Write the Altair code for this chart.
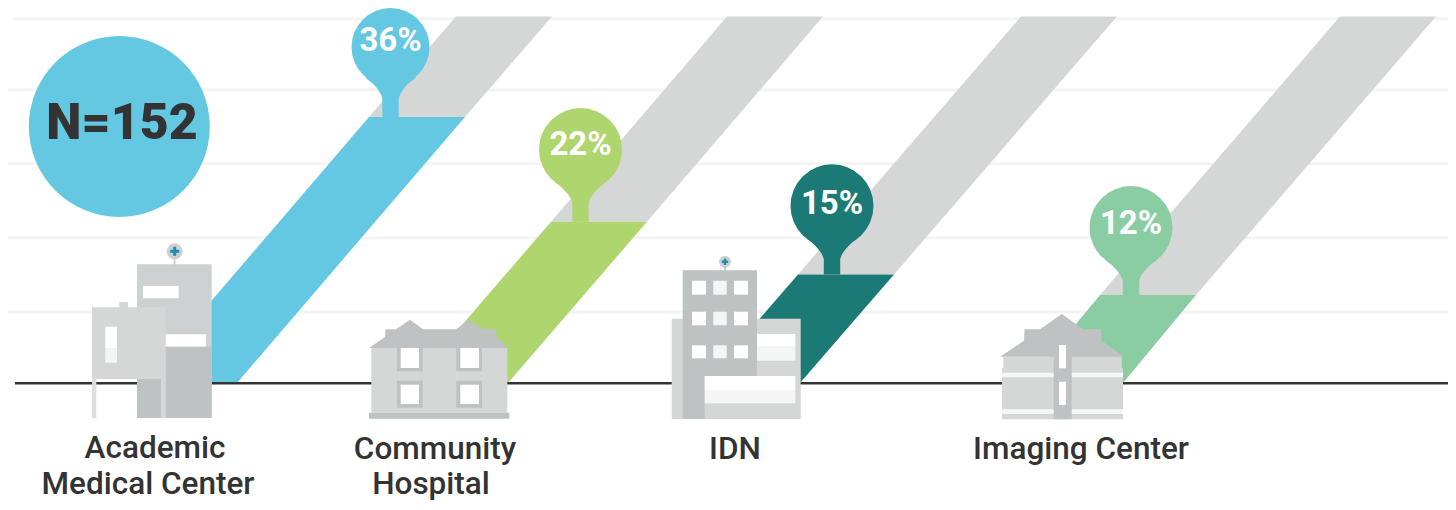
import altair as alt
import pandas as pd

# ---- values (percent of respondents) ----
categories = ["Academic Medical Center", "Community Hospital", "IDN", "Imaging Center"]
pct_labels = ["36%", "22%", "15%", "12%"]
bar_values = [36.3, 22.0, 14.8, 12.0]
full_value = 50.0
grid_values = [9.7, 19.8, 29.9, 40.0, 49.7]
grid_start = [8, 8, 8, 8, 13]
band_colors = ["#65c8e2", "#afd56f", "#1c7a76", "#8bcda3"]

# horizontal position of each slanted band's right edge
band_right_base = [237, 508, 800, 1123]
band_right_bar = [465, 647, 894, 1196]
band_right_full = [552, 823, 1117, 1436]
BAND_W = 96

pin_x = [390.5, 580.5, 832, 1131]
pin_y = [47, 149.5, 205.8, 227.5]
pin_d = [78, 83, 83, 83]
pin_text_y = [41, 145, 204, 224]
neck_dy = [[30.5, 34, 37, 44, 52.5], [32.5, 36, 39.5, 46, 54.5], [32.5, 36, 39.5, 46, 54.5], [32.5, 36, 39.5, 46, 54.5]]
neck_half = [25.7, 21, 17.3, 11.7, 8.2]

GRAY = "#d5d7d6"
MID = "#ced1d1"
DARK = "#bec2c2"
PALE = "#f4f6f5"
WHITE = "#ffffff"
TEAL = "#1e8fae"

K = 7.33  # pixels per percent point
BASE = 383


def v(py):
    return (BASE - py) / K


roof_a_x = [369, 385, 385.5, 396, 410, 423, 456, 469, 483, 496, 496.5, 509.3]
roof_a_y = [348, 337, 329.3, 329.3, 319.7, 329.3, 329.3, 319.7, 329.3, 329.3, 337.7, 348]
roof_b_x = [1000, 1024, 1024.5, 1040, 1061.7, 1083.3, 1101, 1101.5, 1124]
roof_b_y = [356.7, 340.7, 329.3, 329.3, 314, 329.3, 329.3, 340.7, 356.7]

balls_x = [174.7, 725]
balls_y = [251.3, 261.7]
balls_d = [16, 12]

parts = [
    # Academic Medical Center
    (173.8, 175.6, 255, 265, MID), (137, 211.7, 264.3, 418, MID),
    (143, 178.7, 286, 298.3, WHITE), (165, 206, 334.3, 346.7, WHITE),
    (165.7, 211.7, 346.7, 418, DARK), (119.3, 128, 302, 308, GRAY),
    (92, 165.7, 307.3, 379, GRAY), (105.3, 117, 326.7, 348.3, WHITE),
    (105.3, 117, 348.3, 362.7, PALE), (92, 96.3, 379, 418, "#dcdedd"),
    (137, 161, 379, 418, DARK), (161, 165.7, 379, 418, GRAY),
    (170.2, 179.2, 249.8, 252.8, TEAL), (173.2, 176.2, 246.8, 255.8, TEAL),
    # Community Hospital
    (371.3, 507.3, 348, 412.7, GRAY), (369, 509.3, 412.7, 418.7, DARK),
    (397, 422.7, 348, 371.3, DARK), (400.7, 419, 348, 368, WHITE),
    (456.3, 482, 348, 371.3, DARK), (460.3, 479, 348, 368, WHITE),
    (397, 422.7, 380.7, 407.7, DARK), (400.7, 419, 384.7, 404, WHITE),
    (456.3, 482, 380.7, 407.7, DARK), (460.3, 479, 384.7, 404, WHITE),
    # IDN
    (671.7, 800.7, 318.7, 419, GRAY), (724.2, 725.8, 266, 271, DARK),
    (682.7, 757, 270.3, 376, DARK), (682.7, 704.7, 376, 419, DARK),
    (692, 706, 280.7, 294.7, WHITE), (713.3, 726.7, 280.7, 294.7, PALE), (734, 748, 280.7, 294.7, WHITE),
    (692, 706, 311.7, 325.3, WHITE), (713.3, 726.7, 311.7, 325.3, PALE), (734, 748, 311.7, 325.3, WHITE),
    (692, 706, 345.3, 358.3, WHITE), (713.3, 726.7, 345.3, 358.3, PALE), (734, 748, 345.3, 358.3, WHITE),
    (757, 795.3, 334, 346.7, WHITE), (757, 795.3, 346.7, 360.7, PALE),
    (704.7, 795.3, 376, 390, WHITE), (704.7, 795.3, 390, 403.3, PALE),
    (721.8, 728.2, 260.5, 263, TEAL), (723.8, 726.2, 258.5, 265, TEAL),
    # Imaging Center
    (1003.3, 1121.7, 356.7, 368, GRAY), (1002, 1123, 368, 419.3, GRAY),
    (1002, 1123, 372.7, 377.3, PALE), (1002, 1123, 409.3, 414, PALE),
    (1053.7, 1071.7, 356, 419.3, DARK),
    (1059, 1066, 345, 368.3, WHITE), (1059, 1066, 381.7, 405, WHITE),
]

label_lines = ["Academic", "Medical Center", "Community", "Hospital", "IDN", "Imaging Center"]
label_x = [155, 148, 435, 431, 735, 1081]
label_y = [449, 485, 450, 485, 450, 450]

# ---- tables ----
gray_bands, color_bands = [], []
for i, c in enumerate(categories):
    gray_bands += [
        {"k": c, "y": bar_values[i], "x": band_right_bar[i] - BAND_W, "x2": band_right_bar[i]},
        {"k": c, "y": full_value, "x": band_right_full[i] - BAND_W, "x2": band_right_full[i]},
    ]
    color_bands += [
        {"k": c, "c": band_colors[i], "y": 0, "x": band_right_base[i] - BAND_W, "x2": band_right_base[i]},
        {"k": c, "c": band_colors[i], "y": bar_values[i], "x": band_right_bar[i] - BAND_W, "x2": band_right_bar[i]},
    ]

necks = []
for i, c in enumerate(categories):
    for dy, h in zip(neck_dy[i], neck_half):
        necks.append({"k": c, "c": band_colors[i], "y": v(pin_y[i] + dy), "x": pin_x[i] - h, "x2": pin_x[i] + h})
    necks.append({"k": c, "c": band_colors[i], "y": bar_values[i], "x": pin_x[i] - neck_half[-1], "x2": pin_x[i] + neck_half[-1]})

heads = pd.DataFrame({"x": pin_x, "y": [v(p) for p in pin_y], "c": band_colors, "t": pct_labels,
                      "s": [d * d for d in pin_d], "ty": [v(p) for p in pin_text_y]})
rects = pd.DataFrame([{"x": a, "x2": b, "y": v(c), "y2": v(d), "c": e, "i": n} for n, (a, b, c, d, e) in enumerate(parts)])
roofs = pd.DataFrame(
    [{"k": "a", "x": a, "y": v(b), "y2": v(348)} for a, b in zip(roof_a_x, roof_a_y)]
    + [{"k": "b", "x": a, "y": v(b), "y2": v(356.7)} for a, b in zip(roof_b_x, roof_b_y)]
)
balls = pd.DataFrame({"x": balls_x, "y": [v(p) for p in balls_y], "s": [d * d for d in balls_d]})
grid = pd.DataFrame({"y": grid_values, "x": grid_start, "x2": [1448] * 5})
labels = pd.DataFrame({"t": label_lines, "x": label_x, "y": [v(p) for p in label_y]})

Y_SCALE = alt.Scale(domain=[v(502), v(8)], nice=False, zero=False)
X = alt.X("x:Q", scale=alt.Scale(domain=[8, 1448], nice=False, zero=False), axis=None, stack=None)
Y = alt.Y("y:Q", scale=Y_SCALE, axis=None, stack=None)
C = alt.Color("c:N", scale=None, legend=None)
S = alt.Size("s:Q", scale=None, legend=None)

grid_l = alt.Chart(grid).mark_rule(color="#f3f4f4", strokeWidth=3).encode(x=X, x2="x2:Q", y=Y)
gray_l = alt.Chart(pd.DataFrame(gray_bands)).mark_area(orient="horizontal", color=GRAY).encode(y=Y, x=X, x2="x2:Q", detail="k:N")
col_l = alt.Chart(pd.DataFrame(color_bands)).mark_area(orient="horizontal").encode(y=Y, x=X, x2="x2:Q", color=C, detail="k:N")
base_l = alt.Chart(pd.DataFrame({"x": [15], "x2": [1448], "y": [-0.05]})).mark_rule(color="#333333", strokeWidth=2.5).encode(x=X, x2="x2:Q", y=Y)
neck_l = alt.Chart(pd.DataFrame(necks)).mark_area(orient="horizontal", interpolate="monotone").encode(y=Y, x=X, x2="x2:Q", color=C, detail="k:N")
head_l = alt.Chart(heads).mark_circle(opacity=1).encode(x=X, y=Y, color=C, size=S)
head_t = alt.Chart(heads).mark_text(font="Roboto", fontWeight=700, fontSize=33, color="white", baseline="middle", align="center").encode(
    x=X, y=alt.Y("ty:Q", scale=Y_SCALE, axis=None), text="t:N"
)
n_circle = alt.Chart(pd.DataFrame({"x": [119.3], "y": [v(126.5)]})).mark_circle(opacity=1, size=181 * 181, color="#65c8e2").encode(x=X, y=Y)
n_text = alt.Chart(pd.DataFrame({"x": [122], "y": [v(124)], "t": ["N=152"]})).mark_text(
    font="Roboto", fontWeight=900, fontSize=50, color="#333333", baseline="middle", align="center"
).encode(x=X, y=Y, text="t:N")
roof_l = alt.Chart(roofs).mark_area(color=DARK).encode(x=X, y=Y, y2="y2:Q", detail="k:N")
ball_l = alt.Chart(balls).mark_circle(opacity=1, color=MID).encode(x=X, y=Y, size=S)
rect_l = alt.Chart(rects).mark_rect(strokeWidth=0).encode(x=X, x2="x2:Q", y=Y, y2="y2:Q", color=C, order="i:Q")
lab_l = alt.Chart(labels).mark_text(font="Roboto", fontWeight=500, fontSize=31.5, color="#333333", baseline="middle", align="center").encode(
    x=X, y=Y, text="t:N"
)

chart = (
    alt.layer(grid_l, gray_l, col_l, base_l, neck_l, head_l, head_t, n_circle, n_text, roof_l, ball_l, rect_l, lab_l)
    .properties(width=1440, height=494, padding=0, autosize=alt.AutoSizeParams(type="none"))
    .configure_view(stroke=None)
)

chart.save("out.html", embed_options={"renderer": "svg", "actions": False})
